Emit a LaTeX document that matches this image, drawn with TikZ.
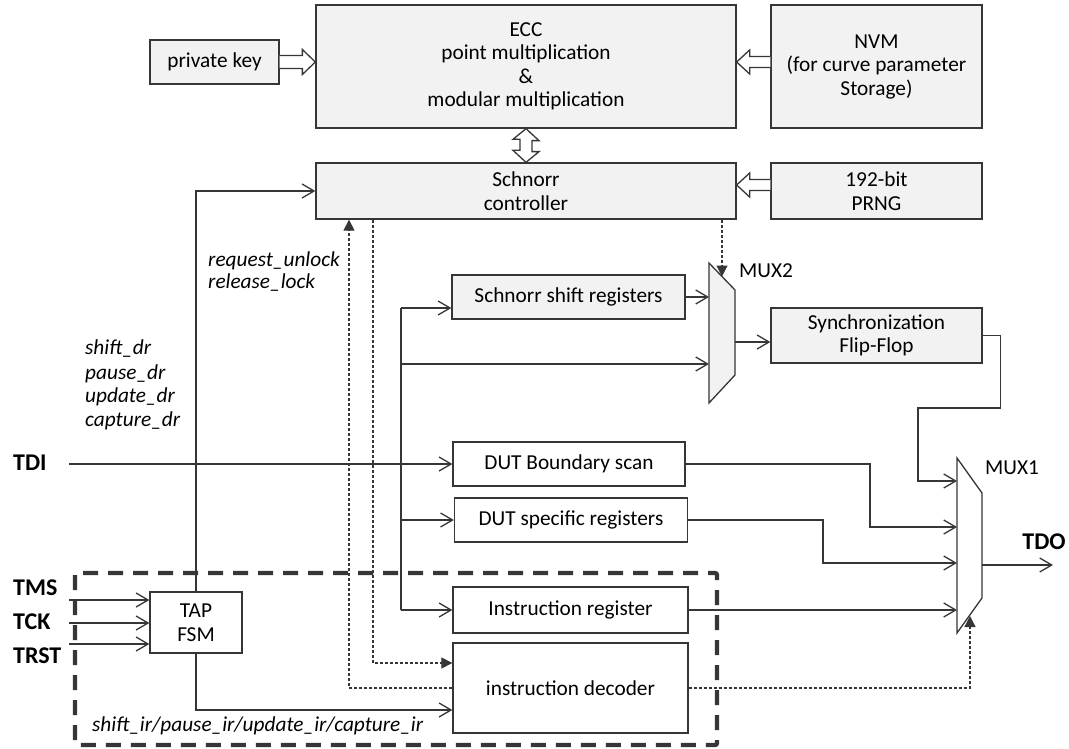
\documentclass[tikz,border=0pt]{standalone}
\usepackage{fontspec}
\setmainfont{Carlito}
\usetikzlibrary{arrows.meta,calc}
\definecolor{boxgray}{HTML}{F2F2F2}
\definecolor{ln}{HTML}{363636}
\begin{document}
\begin{tikzpicture}[x=1pt,y=-1pt,
  font=\fontsize{21.3}{23.5}\selectfont,
  box/.style={draw=ln, line width=1.3pt, fill=white, inner sep=0pt, align=center, text=black},
  gbox/.style={box, fill=boxgray},
  wire/.style={draw=ln, line width=1.3pt},
  arr/.style={wire, -{Straight Barb[length=12pt,width=14pt,line width=1.3pt]}},
  dotw/.style={draw=ln, line width=1.2pt, dash pattern=on 3pt off 2pt},
  darr/.style={dotw, -{Triangle[length=11pt,width=11pt]}},
  hollow/.style={draw=ln, line width=1.3pt, fill=white, line join=miter},
  sig/.style={font=\fontsize{21.3}{23.5}\selectfont\itshape, anchor=west, inner sep=0pt},
  pin/.style={font=\fontsize{24}{26}\selectfont\bfseries, anchor=west, inner sep=0pt},
  lbl/.style={anchor=west, inner sep=0pt},
]
\useasboundingbox (0,0) rectangle (1069,749);

% boxes
\node[gbox, minimum width=129pt, minimum height=44pt] (pk) at (214.5,62) {private key};
\node[gbox, minimum width=420pt, minimum height=123pt] (ecc) at (526,66.5) {ECC\\point multiplication\\\&\\modular multiplication};
\node[gbox, minimum width=211pt, minimum height=123pt] (nvm) at (876.5,66.5) {NVM\\(for curve parameter\\Storage)};
\node[gbox, minimum width=420pt, minimum height=56pt] (sch) at (526,191) {Schnorr\\controller};
\node[gbox, minimum width=211pt, minimum height=56pt] (prng) at (876.5,191) {192-bit\\PRNG};
\node[gbox, minimum width=233pt, minimum height=44pt] (ssr) at (568.5,297) {Schnorr shift registers};
\node[gbox, minimum width=211pt, minimum height=55pt] (sync) at (876.5,335.5) {Synchronization\\Flip-Flop};
\node[box, minimum width=232pt, minimum height=44pt] (dbs) at (569,464) {DUT Boundary scan};
\node[box, minimum width=233pt, minimum height=44pt] (dsr) at (571,520) {DUT specific registers};
\node[box, minimum width=235pt, minimum height=46pt] (ir) at (570.5,610) {Instruction register};
\node[box, minimum width=235pt, minimum height=90pt] (dec) at (570.5,688) {instruction decoder};
\node[box, minimum width=92pt, minimum height=61pt] (tap) at (196,622.5) {TAP\\FSM};

% multiplexers
\draw[wire, fill=boxgray] (709,263) -- (735,290) -- (735,375) -- (709,403) -- cycle;
\draw[wire, fill=white] (957,458) -- (982,493) -- (982,598) -- (957,633) -- cycle;
\coordinate (m2in1) at (709,297);
\coordinate (m2in2) at (709,364);
\coordinate (m2out) at (735,342);
\coordinate (m2sel) at (722,276.5);
\coordinate (m1in1) at (957,481);
\coordinate (m1in2) at (957,527);
\coordinate (m1in3) at (957,563);
\coordinate (m1in4) at (957,610);
\coordinate (m1out) at (982,565);
\coordinate (m1sel) at (970,616);
\coordinate (tdoE) at (1053,565);

% hollow block arrows
\coordinate (h1s) at (pk.east);
\coordinate (h1e) at (pk.east -| ecc.west);
\draw[hollow] ($(h1s)+(0,-6.5)$) -- ($(h1e)+(-13,-6.5)$) -- ($(h1e)+(-13,-12.5)$) -- (h1e) -- ($(h1e)+(-13,12.5)$) -- ($(h1e)+(-13,6.5)$) -- ($(h1s)+(0,6.5)$);
\coordinate (h2s) at (nvm.west |- 0,62);
\coordinate (h2e) at (ecc.east |- 0,62);
\draw[hollow] ($(h2s)+(0,-5.5)$) -- ($(h2e)+(13,-5.5)$) -- ($(h2e)+(13,-12)$) -- (h2e) -- ($(h2e)+(13,12)$) -- ($(h2e)+(13,5.5)$) -- ($(h2s)+(0,5.5)$);
\coordinate (h3s) at (prng.west |- 0,185);
\coordinate (h3e) at (sch.east |- 0,185);
\draw[hollow] ($(h3s)+(0,-5.5)$) -- ($(h3e)+(13,-5.5)$) -- ($(h3e)+(13,-12)$) -- (h3e) -- ($(h3e)+(13,12)$) -- ($(h3e)+(13,5.5)$) -- ($(h3s)+(0,5.5)$);
\draw[hollow] (ecc.south) -- ++(13,12) -- ++(-7,0) -- ++(0,11) -- ++(7,0) -- (sch.north) -- ++(-13,-12) -- ++(7,0) -- ++(0,-11) -- ++(-7,0) -- cycle;

% solid connectors
\draw[arr] (tap.north) |- (sch.west);
\coordinate (tdiS) at (69,464);
\draw[arr] (tdiS) -- (dbs.west);
\coordinate (busT) at (401,308);
\coordinate (busB) at (401,610);
\draw[wire] (busT) -- (busB);
\draw[arr] (busT) -- (busT -| ssr.west);
\draw[arr] (busT |- m2in2) -- (m2in2);
\draw[arr] (busT |- dsr.west) -- (dsr.west);
\draw[arr] (busB) -- (ir.west);
\draw[arr] (ssr.east) -- (m2in1);
\draw[arr] (m2out) -- (m2out -| sync.west);
\draw[arr] (sync.east) -- ++(18,0) |- (918,408) |- (m1in1);
\draw[arr] (dbs.east) -| (m1in2 -| 870,0) -- (m1in2);
\draw[arr] (dsr.east) -| (m1in3 -| 823,0) -- (m1in3);
\draw[arr] (ir.east) -- (m1in4);
\draw[arr] (m1out) -- (tdoE);
\draw[arr] (tap.south) |- (dec.west |- 0,710);
\coordinate (tmsS) at (69,600);
\coordinate (tckS) at (69,623);
\coordinate (trstS) at (69,644);
\draw[arr] (tmsS) -- (tap.west |- tmsS);
\draw[arr] (tckS) -- (tap.west |- tckS);
\draw[arr] (trstS) -- (tap.west |- trstS);

% dotted control connectors
\draw[darr] (sch.south -| m2sel) -- (m2sel);
\draw[darr] (dec.east) -| (m1sel);
\draw[darr] (dec.west) -| (sch.south -| 349,0);
\draw[darr] (sch.south -| 373,0) |- (dec.west |- 0,663);

% dashed TAP region
\draw[draw=ln, line width=4.3pt, dash pattern=on 15pt off 10pt, rounded corners=2pt] (75,573) rectangle (717,745);

% labels
\node[sig] (ru) at (208,261) {request\_unlock};
\node[sig] (rl) at (208,283) {release\_lock};
\node[sig] (sdr) at (85,349) {shift\_dr};
\node[sig] (pdr) at (85,374) {pause\_dr};
\node[sig] (udr) at (85,397) {update\_dr};
\node[sig] (cdr) at (85,421) {capture\_dr};
\node[sig] (sir) at (92,726) {shift\_ir/pause\_ir/update\_ir/capture\_ir};
\node[lbl] (m2l) at (739,271) {MUX2};
\node[lbl] (m1l) at (985,468) {MUX1};
\node[pin, anchor=center] (tdo) at (1044,542) {TDO};
\node[pin] (tdi) at (13,463) {TDI};
\node[pin] (tms) at (13,588) {TMS};
\node[pin] (tck) at (13,622) {TCK};
\node[pin] (trst) at (13,656) {TRST};
\end{tikzpicture}
\end{document}
